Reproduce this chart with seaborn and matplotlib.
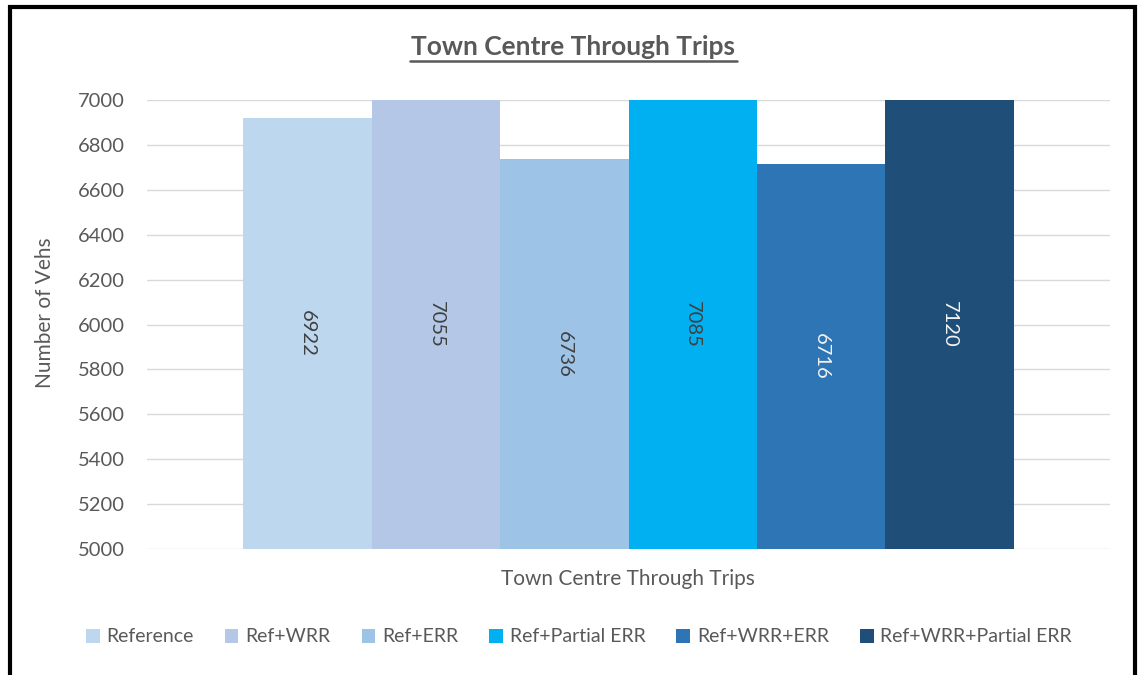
import matplotlib
matplotlib.use("Agg")
import matplotlib.pyplot as plt
import seaborn as sns
import pandas as pd
from matplotlib.patches import Rectangle

series = ["Reference", "Ref+WRR", "Ref+ERR", "Ref+Partial ERR", "Ref+WRR+ERR", "Ref+WRR+Partial ERR"]
values = [6922, 7055, 6736, 7085, 6716, 7120]
colors = ["#BDD7EE", "#B4C7E7", "#9DC3E6", "#00B0F0", "#2E75B6", "#1F4E79"]
label_colors = ["#404040", "#404040", "#404040", "#404040", "#F2F2F2", "#F2F2F2"]
category = "Town Centre Through Trips"
yticks = [5000, 5200, 5400, 5600, 5800, 6000, 6200, 6400, 6600, 6800, 7000]

sns.set_theme(style="white")
plt.rcParams['font.family'] = ['Lato', 'DejaVu Sans']

df = pd.DataFrame({"cat": [category] * len(series), "series": series, "value": values})

fig = plt.figure(figsize=(11.39, 6.75), dpi=100)
ax = fig.add_axes([147 / 1139, 1 - 549 / 675, (1110 - 147) / 1139, (549 - 100) / 675])

sns.barplot(data=df, x="cat", y="value", hue="series", hue_order=series,
            palette=colors, width=0.8, saturation=1, ax=ax, legend=True)

ax.set_ylim(5000, 7000)
ax.set_xlim(-0.5, 0.5)
ax.set_yticks(yticks)
ax.set_yticklabels([str(t) for t in yticks], fontsize=14.5, color="#595959")
ax.tick_params(axis="y", length=0, pad=16)
ax.tick_params(axis="x", length=0)
ax.set_xticklabels([])
ax.yaxis.grid(True, color="#D9D9D9", linewidth=1)
ax.set_axisbelow(True)
for s in ax.spines.values():
    s.set_visible(False)

for p in ax.patches:
    p.set_edgecolor("none")

# value labels centred within visible bar portion
bars = [p for p in ax.patches if p.get_width() > 0][:len(values)]
for p, v, lc in zip(bars, values, label_colors):
    xc = p.get_x() + p.get_width() / 2
    yc = (5000 + min(v, 7000)) / 2
    ax.text(xc, yc, str(v), rotation=270, ha="center", va="center",
            fontsize=14.5, color=lc)

ax.set_xlabel("")
ax.set_ylabel("")
fig.text(45 / 1139, 1 - 313 / 675, "Number of Vehs", rotation=90, ha="center", va="center",
         fontsize=15, color="#595959")
fig.text(628 / 1139, 1 - 579 / 675, category, ha="center", va="center",
         fontsize=15, color="#595959")

fig.text(573 / 1139, 1 - 47 / 675, "Town Centre Through Trips", ha="center", va="center",
         fontsize=19, fontweight="bold", color="#595959")
# underline
fig.add_artist(plt.Line2D([410 / 1139, 737 / 1139], [1 - 61 / 675, 1 - 61 / 675],
                          color="#595959", linewidth=1.8, transform=fig.transFigure))

leg = ax.legend(ncol=6, loc="center", bbox_to_anchor=(579 / 1139, 1 - 637 / 675),
                bbox_transform=fig.transFigure, frameon=False, fontsize=14,
                handlelength=0.7, handleheight=0.7, handletextpad=0.35, columnspacing=1.6)
for txt in leg.get_texts():
    txt.set_color("#595959")

# black frame
fig.add_artist(Rectangle((9.5 / 1139, -0.1), (1135 - 9.5) / 1139, 1.1 - 7.5 / 675,
                         transform=fig.transFigure, fill=False, edgecolor="black",
                         linewidth=3))

fig.savefig("out.png", dpi=100, facecolor="white")
